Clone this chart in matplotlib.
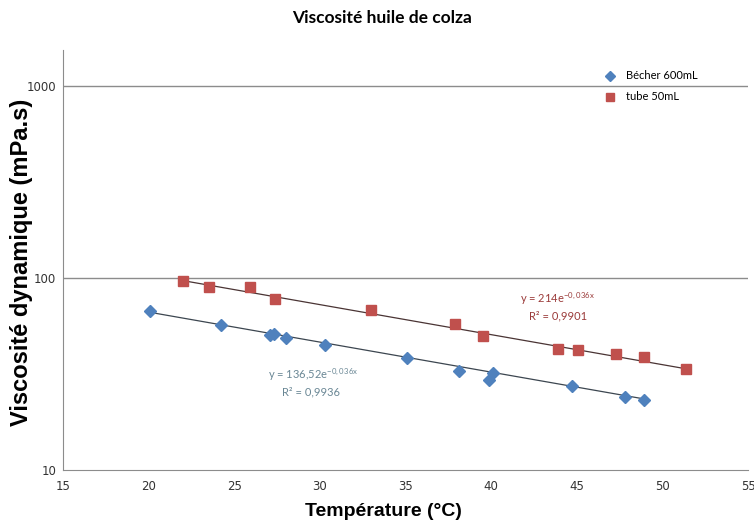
import numpy as np
import matplotlib.pyplot as plt
from matplotlib.ticker import FixedLocator, NullLocator

# data
becher_T = [20.1, 24.2, 27.1, 27.3, 28.0, 30.3, 35.1, 38.1, 40.1, 39.9, 44.7, 47.8, 48.9]
becher_eta = [67.6, 56.9, 50.5, 50.9, 48.5, 44.8, 38.5, 32.9, 31.9, 29.4, 27.4, 23.9, 23.2]
tube_T = [22.0, 23.5, 25.9, 27.4, 33.0, 37.9, 39.5, 43.9, 45.1, 47.3, 48.9, 51.4]
tube_eta = [96.8, 89.5, 90.1, 77.4, 68.1, 57.4, 50.0, 42.5, 42.0, 40.2, 38.6, 33.6]

# trendline coefficients as shown on the chart
fit_becher = (136.52, -0.036)
fit_tube = (214.0, -0.036)

blue = '#4f81bd'
red = '#c0504d'

fig = plt.figure(figsize=(7.54, 5.26), dpi=100)
ax = fig.add_axes([63 / 754, 1 - 470 / 526, 685 / 754, 420 / 526])

for T, (a, b), col in [(becher_T, fit_becher, '#3c4650'), (tube_T, fit_tube, '#4a3434')]:
    xs = np.linspace(min(T), max(T), 50)
    ax.plot(xs, a * np.exp(b * xs), color=col, lw=0.9, zorder=2)

ax.plot(becher_T, becher_eta, 'D', color=blue, ms=6, mec=blue, zorder=3, label='Bécher 600mL')
ax.plot(tube_T, tube_eta, 's', color=red, ms=7, mec=red, zorder=3, label='tube 50mL')

ax.set_yscale('log')
ax.set_xlim(15, 55)
ax.set_ylim(10, 1540)
ax.xaxis.set_major_locator(FixedLocator(np.arange(15, 56, 5)))
ax.yaxis.set_major_locator(FixedLocator([10, 100, 1000]))
ax.yaxis.set_minor_locator(NullLocator())
ax.set_yticklabels(['10', '100', '1000'])
ax.tick_params(length=0, labelsize=8.5, colors='#333333')
ax.tick_params(axis='x', pad=7)
ax.tick_params(axis='y', pad=5)
for lab in ax.get_xticklabels() + ax.get_yticklabels():
    lab.set_family(['Liberation Sans Narrow', 'DejaVu Sans'])

for v in [100, 1000]:
    ax.axhline(v, color='#8c8c8c', lw=1, zorder=1)

for s in ['top', 'right']:
    ax.spines[s].set_visible(False)
ax.spines['left'].set_color('#8c8c8c')
ax.spines['bottom'].set_color('#8c8c8c')

txt = dict(fontsize=8, ha='center', va='center', family='Lato')
ax.text(43.9, 78.0, 'y = 214e$^{\\mathregular{-0,036x}}$', color='#9b3b3a', **txt)
ax.text(43.9, 63.2, 'R² = 0,9901', color='#9b3b3a', **txt)
ax.text(29.6, 31.5, 'y = 136,52e$^{\\mathregular{-0,036x}}$', color='#6a8795', **txt)
ax.text(29.5, 25.6, 'R² = 0,9936', color='#6a8795', **txt)

leg = ax.legend(loc='upper left', bbox_to_anchor=(533 / 685, 0.975), frameon=False,
                handlelength=0.8, handletextpad=1.0, labelspacing=0.9,
                markerscale=0.8, prop={'family': 'Lato', 'size': 8})

fig.text(382 / 754, 1 - 18 / 526, 'Viscosité huile de colza', ha='center', va='center',
         fontsize=12.5, fontweight='bold', family='Lato')
fig.text(22 / 754, 1 - 262 / 526, 'Viscosité dynamique (mPa.s)', ha='center', va='center',
         rotation=90, fontsize=17, fontweight='bold', family='Liberation Sans')
fig.text(383 / 754, 1 - 512 / 526, 'Température (°C)', ha='center', va='center',
         fontsize=14, fontweight='bold', family='Liberation Sans')

plt.savefig('out.png', dpi=100)
